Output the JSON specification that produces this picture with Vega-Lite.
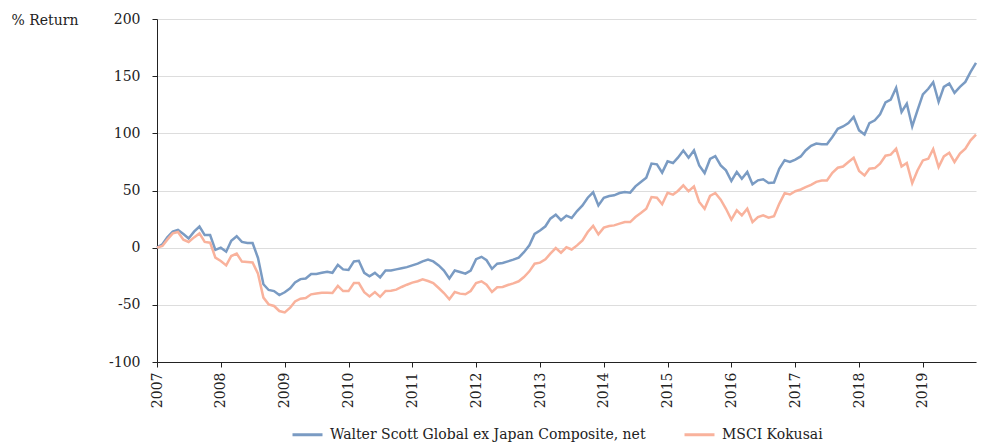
{
  "$schema": "https://vega.github.io/schema/vega-lite/v6.json",
  "width": 819,
  "height": 343,
  "autosize": {"type": "none"},
  "padding": {"left": 157, "top": 19, "right": 8, "bottom": 81},
  "background": "white",
  "config": {
    "view": {"stroke": null},
    "font": "DejaVu Serif",
    "axis": {"labelFont": "DejaVu Serif", "titleFont": "DejaVu Serif", "labelColor": "#222222", "titleColor": "#222222", "labelFontSize": 14, "titleFontSize": 14, "titleFontWeight": "normal"},
    "legend": {"labelFont": "DejaVu Serif", "labelFontSize": 14, "labelColor": "#222222", "labelLimit": 0}
  },
  "data": {"values": [
{"d":"2007-01-01","w":0,"k":0},{"d":"2007-02-01","w":3,"k":1.5},{"d":"2007-03-01","w":9,"k":7},{"d":"2007-04-01","w":14,"k":12.5},{"d":"2007-05-01","w":15.5,"k":13.7},{"d":"2007-06-01","w":12,"k":7},{"d":"2007-07-01","w":8,"k":5},{"d":"2007-08-01","w":14,"k":9},{"d":"2007-09-01","w":18.5,"k":12.5},{"d":"2007-10-01","w":11,"k":5},{"d":"2007-11-01","w":11,"k":4.4},{"d":"2007-12-01","w":-2,"k":-8.7},
{"d":"2008-01-01","w":0,"k":-11.7},{"d":"2008-02-01","w":-3.5,"k":-15.5},{"d":"2008-03-01","w":6,"k":-7.3},{"d":"2008-04-01","w":10,"k":-5.2},{"d":"2008-05-01","w":5,"k":-12.2},{"d":"2008-06-01","w":4,"k":-12.5},{"d":"2008-07-01","w":4,"k":-13},{"d":"2008-08-01","w":-9,"k":-22.7},{"d":"2008-09-01","w":-32,"k":-43.7},{"d":"2008-10-01","w":-37,"k":-49.6},{"d":"2008-11-01","w":-38,"k":-51},{"d":"2008-12-01","w":-41.5,"k":-55.4},
{"d":"2009-01-01","w":-39,"k":-56.6},{"d":"2009-02-01","w":-35.5,"k":-52.5},{"d":"2009-03-01","w":-30.5,"k":-47},{"d":"2009-04-01","w":-27.5,"k":-44.6},{"d":"2009-05-01","w":-27,"k":-44},{"d":"2009-06-01","w":-23,"k":-40.8},{"d":"2009-07-01","w":-23,"k":-40},{"d":"2009-08-01","w":-22,"k":-39.4},{"d":"2009-09-01","w":-21,"k":-39.4},{"d":"2009-10-01","w":-22,"k":-39.6},{"d":"2009-11-01","w":-15,"k":-33.5},{"d":"2009-12-01","w":-19,"k":-38},
{"d":"2010-01-01","w":-19.5,"k":-38},{"d":"2010-02-01","w":-12,"k":-31},{"d":"2010-03-01","w":-11.5,"k":-31},{"d":"2010-04-01","w":-22,"k":-39},{"d":"2010-05-01","w":-25,"k":-42.6},{"d":"2010-06-01","w":-22,"k":-38.8},{"d":"2010-07-01","w":-26,"k":-43},{"d":"2010-08-01","w":-20,"k":-37.9},{"d":"2010-09-01","w":-20,"k":-37.6},{"d":"2010-10-01","w":-19,"k":-36.7},{"d":"2010-11-01","w":-18,"k":-34.4},{"d":"2010-12-01","w":-17,"k":-32.4},
{"d":"2011-01-01","w":-15.5,"k":-30.6},{"d":"2011-02-01","w":-14,"k":-29.4},{"d":"2011-03-01","w":-12,"k":-27.7},{"d":"2011-04-01","w":-10.5,"k":-29.2},{"d":"2011-05-01","w":-12,"k":-30.9},{"d":"2011-06-01","w":-15.5,"k":-35.3},{"d":"2011-07-01","w":-20,"k":-39.7},{"d":"2011-08-01","w":-27,"k":-45.2},{"d":"2011-09-01","w":-20,"k":-38.8},{"d":"2011-10-01","w":-21.3,"k":-40.2},{"d":"2011-11-01","w":-22.7,"k":-40.8},{"d":"2011-12-01","w":-20,"k":-37.9},
{"d":"2012-01-01","w":-10,"k":-30.9},{"d":"2012-02-01","w":-8,"k":-29.4},{"d":"2012-03-01","w":-11,"k":-32.4},{"d":"2012-04-01","w":-18.5,"k":-38.8},{"d":"2012-05-01","w":-14,"k":-34.7},{"d":"2012-06-01","w":-13.4,"k":-34.4},{"d":"2012-07-01","w":-12,"k":-32.7},{"d":"2012-08-01","w":-10.5,"k":-31.2},{"d":"2012-09-01","w":-8.7,"k":-29.4},{"d":"2012-10-01","w":-4,"k":-25.7},{"d":"2012-11-01","w":2,"k":-20.7},{"d":"2012-12-01","w":12,"k":-14},
{"d":"2013-01-01","w":15,"k":-13.1},{"d":"2013-02-01","w":18.7,"k":-10.2},{"d":"2013-03-01","w":25.4,"k":-5.2},{"d":"2013-04-01","w":28.9,"k":-0.3},{"d":"2013-05-01","w":24,"k":-4.4},{"d":"2013-06-01","w":28,"k":0.3},{"d":"2013-07-01","w":26,"k":-1.6},{"d":"2013-08-01","w":32,"k":2},{"d":"2013-09-01","w":37,"k":6.4},{"d":"2013-10-01","w":43.7,"k":13.7},{"d":"2013-11-01","w":48.4,"k":19},{"d":"2013-12-01","w":37,"k":11.7},
{"d":"2014-01-01","w":43.7,"k":17.5},{"d":"2014-02-01","w":45.2,"k":19},{"d":"2014-03-01","w":45.8,"k":19.5},{"d":"2014-04-01","w":47.8,"k":21},{"d":"2014-05-01","w":48.7,"k":22.4},{"d":"2014-06-01","w":48.1,"k":22.4},{"d":"2014-07-01","w":53.6,"k":26.8},{"d":"2014-08-01","w":57.4,"k":30.3},{"d":"2014-09-01","w":61.2,"k":34},{"d":"2014-10-01","w":73.5,"k":44.3},{"d":"2014-11-01","w":72.9,"k":43.7},{"d":"2014-12-01","w":65.6,"k":38},
{"d":"2015-01-01","w":75.5,"k":48},{"d":"2015-02-01","w":74,"k":46.4},{"d":"2015-03-01","w":78.7,"k":49.6},{"d":"2015-04-01","w":85,"k":54.5},{"d":"2015-05-01","w":78.7,"k":49.3},{"d":"2015-06-01","w":85,"k":53.6},{"d":"2015-07-01","w":72,"k":40},{"d":"2015-08-01","w":65.3,"k":34},{"d":"2015-09-01","w":77.6,"k":45.2},{"d":"2015-10-01","w":80,"k":47.8},{"d":"2015-11-01","w":72,"k":42},{"d":"2015-12-01","w":67.6,"k":34},
{"d":"2016-01-01","w":58.3,"k":24.5},{"d":"2016-02-01","w":66.2,"k":32.7},{"d":"2016-03-01","w":60.3,"k":28.3},{"d":"2016-04-01","w":66.2,"k":34},{"d":"2016-05-01","w":55.4,"k":22.4},{"d":"2016-06-01","w":58.9,"k":26.8},{"d":"2016-07-01","w":59.8,"k":28.3},{"d":"2016-08-01","w":56.6,"k":26.2},{"d":"2016-09-01","w":57,"k":27.5},{"d":"2016-10-01","w":69,"k":38.3},{"d":"2016-11-01","w":76.5,"k":47.7},{"d":"2016-12-01","w":75,"k":46.5},
{"d":"2017-01-01","w":77,"k":49.4},{"d":"2017-02-01","w":79.8,"k":50.9},{"d":"2017-03-01","w":85,"k":52.9},{"d":"2017-04-01","w":89,"k":55},{"d":"2017-05-01","w":91,"k":57.6},{"d":"2017-06-01","w":90.4,"k":58.8},{"d":"2017-07-01","w":90.4,"k":58.8},{"d":"2017-08-01","w":96.8,"k":65.5},{"d":"2017-09-01","w":104,"k":69.9},{"d":"2017-10-01","w":106,"k":71},{"d":"2017-11-01","w":109,"k":74.9},{"d":"2017-12-01","w":114.3,"k":78.7},
{"d":"2018-01-01","w":102.6,"k":67},{"d":"2018-02-01","w":99,"k":63.2},{"d":"2018-03-01","w":109,"k":69},{"d":"2018-04-01","w":111.4,"k":69.6},{"d":"2018-05-01","w":116.7,"k":73.4},{"d":"2018-06-01","w":127,"k":80.4},{"d":"2018-07-01","w":129.5,"k":81.3},{"d":"2018-08-01","w":139.8,"k":86.5},{"d":"2018-09-01","w":118.7,"k":71},{"d":"2018-10-01","w":126,"k":74},{"d":"2018-11-01","w":106,"k":56.4},{"d":"2018-12-01","w":120,"k":67.5},
{"d":"2019-01-01","w":134,"k":76.3},{"d":"2019-02-01","w":139,"k":77.8},{"d":"2019-03-01","w":144.7,"k":86.3},{"d":"2019-04-01","w":127.5,"k":70.5},{"d":"2019-05-01","w":140.6,"k":79.8},{"d":"2019-06-01","w":143.6,"k":83},{"d":"2019-07-01","w":135.4,"k":74.9},{"d":"2019-08-01","w":140.6,"k":82.2},{"d":"2019-09-01","w":145,"k":86.5},{"d":"2019-10-01","w":153.8,"k":93.9},{"d":"2019-11-01","w":161.7,"k":98.8}
  ]},
  "transform": [{"fold": ["w", "k"], "as": ["series", "value"]}],
  "mark": {"type": "line", "strokeWidth": 2.5, "interpolate": "linear"},
  "encoding": {
    "x": {
      "field": "d", "type": "temporal",
      "scale": {"type": "utc", "domain": ["2007-01-01", "2019-11-01"], "nice": false},
      "axis": {"title": null, "format": "%Y", "tickCount": {"interval": "year", "step": 1}, "labelAngle": -90, "labelPadding": 5, "tickSize": 5, "domainColor": "#222222", "tickColor": "#222222", "grid": false, "labelFlush": false, "labelOverlap": false}
    },
    "y": {
      "field": "value", "type": "quantitative",
      "scale": {"domain": [-100, 200], "nice": false, "zero": false},
      "axis": {"title": "% Return", "titleAngle": 0, "titleX": -146, "titleY": 1, "titleAlign": "left", "titleBaseline": "middle", "values": [-100, -50, 0, 50, 100, 150, 200], "labelExpr": "'' + datum.value", "tickSize": 5, "labelPadding": 12, "domainColor": "#222222", "tickColor": "#222222", "grid": true, "gridColor": "#dddddd", "gridWidth": 1}
    },
    "color": {
      "field": "series", "type": "nominal",
      "scale": {"domain": ["w", "k"], "range": ["#7a9bc3", "#f9b29c"]},
      "legend": {"title": null, "orient": "none", "legendX": 134, "legendY": 399, "direction": "horizontal", "symbolType": "stroke", "symbolSize": 900, "symbolStrokeWidth": 3, "labelOffset": 6, "columnPadding": 32, "labelExpr": "datum.value == 'w' ? 'Walter Scott Global ex Japan Composite, net' : 'MSCI Kokusai'"}
    },
    "order": {"field": "series", "sort": "ascending"}
  }
}
